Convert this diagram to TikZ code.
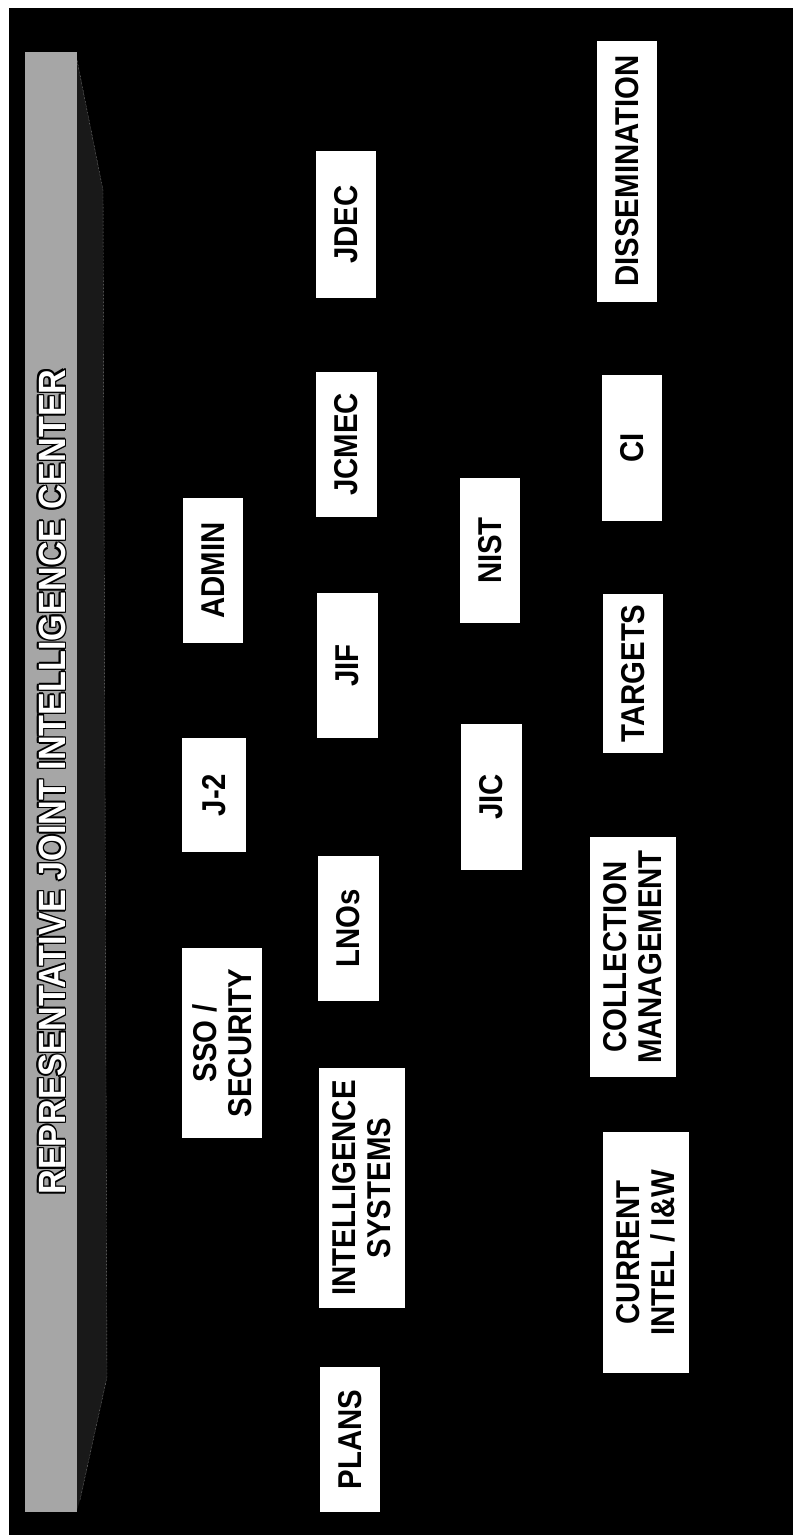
\documentclass[tikz,border=0pt]{standalone}
\usepackage{fontspec}
\usepackage{tikz}
\usetikzlibrary{positioning}
\newfontfamily\unitfont{Liberation Sans}[FakeStretch=0.89]
\newfontfamily\bannerfont{Liberation Sans}[FakeStretch=0.9]
\tikzset{
  unit/.style={rectangle, fill=white, text=black, rotate=90, inner sep=0pt, align=center,
    font=\unitfont\bfseries\fontsize{33}{35}\selectfont},
  banner/.style={rotate=90, inner sep=0pt, font=\bannerfont\bfseries\fontsize{38}{40}\selectfont}
}

\begin{document}
\begin{tikzpicture}[x=1pt, y=-1pt]
\useasboundingbox (0,0) rectangle (793,1535);
% Slide background
\fill[black] (9,8) rectangle (793,1535);

% Title banner and its shadow
\fill[black!90] (77,60) -- (103,190) -- (107,1377) -- (80,1500) -- (77,1510) -- cycle;
\draw[gray!60, densely dotted] (77,60) -- (103,190) -- (107,1377) -- (80,1500);
\fill[black!35] (25,52) rectangle (77,1512);
\foreach \dx/\dy in {-1.5/0, 1.5/0, 0/-1.5, 0/1.5, -1.1/-1.1, 1.1/1.1, -1.1/1.1, 1.1/-1.1}
  \node[banner, text=black] at (52+\dx,782+\dy) {REPRESENTATIVE JOINT INTELLIGENCE CENTER};
\node[banner, text=white] (title) at (52,782) {REPRESENTATIVE JOINT INTELLIGENCE CENTER};

% First column
\node[unit, minimum width=145pt, minimum height=60pt] (admin) at (213,570.5) {ADMIN};
\node[unit, minimum width=114pt, minimum height=64pt] (j2) at (214,795) {J-2};
\node[unit, minimum width=190pt, minimum height=80pt] (sso) at (222,1043) {SSO /\\SECURITY};

% Second column
\node[unit, minimum width=147pt, minimum height=60pt] (jdec) at (346,224.5) {JDEC};
\node[unit, minimum width=145pt, minimum height=61pt] (jcmec) at (346.5,444.5) {JCMEC};
\node[unit, minimum width=145pt, minimum height=61pt] (jif) at (347.5,665.5) {JIF};
\node[unit, minimum width=145pt, minimum height=61pt] (lnos) at (348.5,928.5) {LNOs};
\node[unit, minimum width=240pt, minimum height=86pt] (intsys) at (362,1188) {INTELLIGENCE\\SYSTEMS};
\node[unit, minimum width=145pt, minimum height=60pt] (plans) at (350,1439.5) {PLANS};

% Third column
\node[unit, minimum width=145pt, minimum height=60pt] (nist) at (490,550.5) {NIST};
\node[unit, minimum width=146pt, minimum height=61pt] (jic) at (491,797) {JIC};

% Fourth column
\node[unit, minimum width=261pt, minimum height=60pt] (dissem) at (627,171) {DISSEMINATION};
\node[unit, minimum width=146pt, minimum height=60pt] (ci) at (632,448) {CI};
\node[unit, minimum width=159pt, minimum height=60pt] (targets) at (633,673.5) {TARGETS};
\node[unit, minimum width=240pt, minimum height=86pt] (collmgmt) at (633,957) {COLLECTION\\MANAGEMENT};
\node[unit, minimum width=241pt, minimum height=86pt] (curintel) at (646,1252.5) {CURRENT\\INTEL / I\&W};

\end{tikzpicture}
\end{document}
